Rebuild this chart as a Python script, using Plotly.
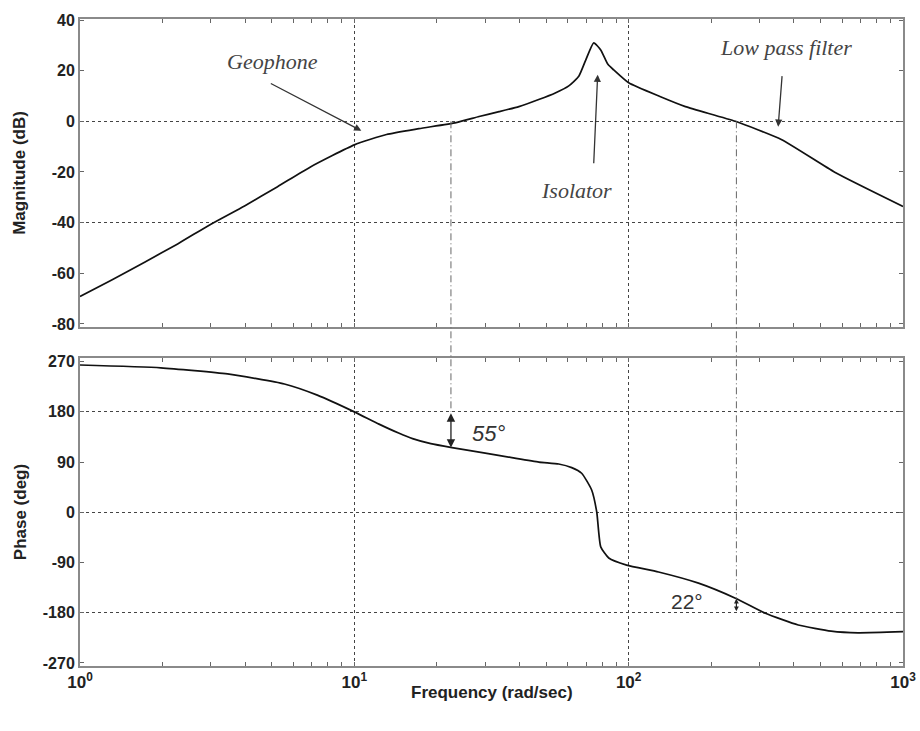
import math
import plotly.graph_objects as go

# ---- data ----
mag_freq = [1.0, 1.30, 1.72, 2.27, 2.99, 3.98, 5.25, 6.92, 10.0, 13.1, 17.2,
            23.5, 28.5, 33.7, 39.8, 47.0, 54.0, 60.5, 65.8, 69.8, 74.6, 79.1, 84.0, 88.2, 100,
            130, 161, 245, 360, 566, 1000]
mag_db = [-69.2, -62.8, -55.6, -48.4, -40.7, -33.4, -25.8, -18.0, -9.3, -5.2, -2.9,
          -0.5, 1.9, 3.8, 5.8, 8.6, 11.2, 14.0, 17.8, 24.3, 31.0, 28.2, 22.5, 20.3, 15.2,
          9.8, 5.8, 0.0, -7.2, -20.2, -33.6]

ph_freq = [1.0, 1.97, 3.45, 5.56, 7.33, 10.0, 12.3, 14.5, 16.3, 19.0, 22.7, 30.0, 37.5,
           47.1, 55.6, 62.0, 67.4, 73.3, 76.5, 79.1, 84.6, 98.3, 128.5, 179.7, 245, 315,
           415, 547, 686, 1000]
ph_deg = [264, 259, 248, 230, 210, 180, 158, 142, 132, 123, 116, 106, 98,
          90, 86.5, 80, 70, 40, 0.5, -62, -82, -94.7, -107, -127, -154, -181,
          -202, -213, -216, -214]

mag_ticks = [-80, -60, -40, -20, 0, 20, 40]
mag_ticktext = ["-80", "-60", "-40", "-20", "0", "20", "40"]
mag_grid = [-40, 0]
ph_ticks = [-270, -180, -90, 0, 90, 180, 270]
ph_ticktext = ["-270", "-180", "-90", "0", "90", "180", "270"]
ph_grid = [-180, 0, 180]
x_ticks = [1, 10, 100, 1000]
x_ticktext = ["<b>10<sup>0</sup></b>", "<b>10<sup>1</sup></b>",
              "<b>10<sup>2</sup></b>", "<b>10<sup>3</sup></b>"]
x_minor = [m * d for d in (1, 10, 100) for m in range(2, 10)]

margin_freq_1 = 22.5   # 55 deg phase margin marker
margin_freq_2 = 247.0  # 22 deg marker
margin_ph_1 = (180, 116)
margin_ph_2 = (-180, -155)

# ---- layout constants ----
dom_top = [0.524, 1.0]
dom_bot = [0.0, 0.476]
rng_top = [-81.2, 40.4]
rng_bot = [-275.5, 276.5]

def to_paper(v, rng, dom):
    return dom[0] + (v - rng[0]) / (rng[1] - rng[0]) * (dom[1] - dom[0])

TXT = "#222"
GRID = "#444"
AXL = "#8a8a8a"
sans = "Liberation Sans, Arial, sans-serif"
serif = "Liberation Serif, Times New Roman, serif"

fig = go.Figure()
fig.add_trace(go.Scatter(x=mag_freq, y=mag_db, mode="lines", xaxis="x", yaxis="y",
                         line=dict(color="#111", width=1.7, shape="spline", smoothing=0.5),
                         showlegend=False))
fig.add_trace(go.Scatter(x=ph_freq, y=ph_deg, mode="lines", xaxis="x2", yaxis="y2",
                         line=dict(color="#111", width=1.7, shape="spline", smoothing=0.5),
                         showlegend=False))

xcommon = dict(type="log", range=[0, 3], tickvals=x_ticks, showline=True, linecolor=AXL,
               linewidth=2, mirror="ticks", ticks="inside", ticklen=4, tickcolor="#666",
               showgrid=True, gridcolor=GRID, griddash="3px,3px", gridwidth=1,
               zeroline=False, automargin=False,
               minor=dict(tickmode="array", tickvals=x_minor, ticks="inside", ticklen=4,
                          tickcolor="#666", showgrid=False))

ycommon = dict(showline=True, linecolor=AXL, linewidth=2, mirror="ticks", ticks="inside",
               ticklen=4, tickcolor="#666", showgrid=False, zeroline=False, automargin=False,
               tickfont=dict(family=sans, size=16, color=TXT, weight="bold"),
               title_font=dict(family=sans, size=17, color=TXT, weight="bold"))

fig.update_layout(
    width=920, height=731,
    margin=dict(l=80, r=17, t=19, b=65),
    paper_bgcolor="white", plot_bgcolor="white",
    xaxis=dict(**xcommon, domain=[0, 1], anchor="y", matches="x2", showticklabels=False),
    xaxis2=dict(**xcommon, domain=[0, 1], anchor="y2", ticktext=x_ticktext,
                tickfont=dict(family=sans, size=17, color=TXT)),
    yaxis=dict(**ycommon, domain=dom_top, range=rng_top, tickvals=mag_ticks,
               ticktext=mag_ticktext, title_text="Magnitude (dB)", title_standoff=22,
               minor=dict(tickmode="array", tickvals=mag_grid, ticks="", showgrid=True,
                          gridcolor=GRID, griddash="3px,3px", gridwidth=1)),
    yaxis2=dict(**ycommon, domain=dom_bot, range=rng_bot, tickvals=ph_ticks,
                ticktext=ph_ticktext, title_text="Phase (deg)", title_standoff=12,
                minor=dict(tickmode="array", tickvals=ph_grid, ticks="", showgrid=True,
                           gridcolor=GRID, griddash="3px,3px", gridwidth=1)),
)

# x-axis title
fig.add_annotation(x=0.5, y=-0.041, xref="paper", yref="paper", text="<b>Frequency (rad/sec)</b>",
                   showarrow=False, yanchor="middle",
                   font=dict(family=sans, size=17, color=TXT))

# dash-dot marker lines spanning both panels
dd = dict(color="#666", width=1, dash="7px,3px,1px,3px")
fig.add_shape(type="line", xref="x", yref="paper", x0=margin_freq_1, x1=margin_freq_1,
              y0=to_paper(0, rng_top, dom_top), y1=to_paper(margin_ph_1[0], rng_bot, dom_bot),
              line=dd)
fig.add_shape(type="line", xref="x", yref="paper", x0=margin_freq_2, x1=margin_freq_2,
              y0=to_paper(0, rng_top, dom_top), y1=to_paper(margin_ph_2[1], rng_bot, dom_bot),
              line=dd)

lx = math.log10
ann_font = dict(family=serif, size=22, color="#444", style="italic")
arrow = dict(showarrow=True, arrowhead=2, arrowsize=1.1, arrowwidth=1.3, arrowcolor="#333")

# Geophone
fig.add_annotation(x=0.702, y=23.5, xref="x", yref="y", text="Geophone",
                   showarrow=False, font=ann_font)
fig.add_annotation(x=1.0255, y=-3.7, xref="x", yref="y", text="", ax=-92, ay=-48, **arrow)
# Isolator
fig.add_annotation(x=1.811, y=-27.5, xref="x", yref="y", text="Isolator",
                   showarrow=False, font=ann_font)
fig.add_annotation(x=1.887, y=18.4, xref="x", yref="y", text="", ax=-4, ay=90, **arrow)
# Low pass filter
fig.add_annotation(x=2.575, y=29.0, xref="x", yref="y", text="Low pass filter",
                   showarrow=False, font=ann_font)
fig.add_annotation(x=2.545, y=-2.1, xref="x", yref="y", text="", ax=4, ay=-52, **arrow)

# phase margin arrows
fig.add_annotation(x=lx(margin_freq_1), y=margin_ph_1[1], xref="x2", yref="y2",
                   ax=lx(margin_freq_1), ay=margin_ph_1[0], axref="x2", ayref="y2",
                   text="", showarrow=True, arrowhead=2, startarrowhead=2,
                   arrowside="end+start", arrowsize=1.3, startarrowsize=1.3,
                   arrowwidth=1.3, arrowcolor="#222")
fig.add_annotation(x=1.49, y=142, xref="x2", yref="y2", text="55°", showarrow=False,
                   font=dict(family=sans, size=22, color="#333", style="italic"))
fig.add_annotation(x=lx(margin_freq_2), y=margin_ph_2[1], xref="x2", yref="y2",
                   ax=lx(margin_freq_2), ay=margin_ph_2[0], axref="x2", ayref="y2",
                   text="", showarrow=True, arrowhead=2, startarrowhead=2,
                   arrowside="end+start", arrowsize=0.8, startarrowsize=0.8,
                   arrowwidth=1.2, arrowcolor="#222")
fig.add_annotation(x=2.211, y=-160.7, xref="x2", yref="y2", text="22°", showarrow=False,
                   font=dict(family=sans, size=21, color="#333"))

fig.write_html("out.html")
